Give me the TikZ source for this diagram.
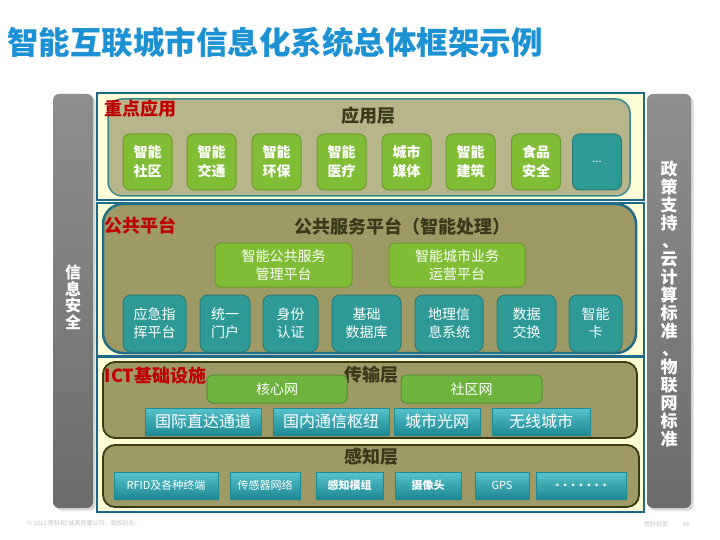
\documentclass[tikz,border=0pt]{standalone}
\usepackage{fontspec}
\setmainfont{Noto Sans CJK SC}
\usetikzlibrary{shadows}

\definecolor{titleblue}{HTML}{1C92D4}
\definecolor{secblue}{HTML}{1C6A8A}
\definecolor{paleyellow}{HTML}{FFFFD7}
\definecolor{appolive}{HTML}{B8B58A}
\definecolor{appedge}{HTML}{3A8B8E}
\definecolor{platolive}{HTML}{9D9A66}
\definecolor{platedge}{HTML}{226C86}
\definecolor{netedge}{HTML}{3B3B12}
\definecolor{layertext}{HTML}{3A391B}
\definecolor{labelred}{HTML}{C00000}
\definecolor{greenfill}{HTML}{80BD35}
\definecolor{greenedge}{HTML}{6A9E2C}
\definecolor{tealfill}{HTML}{2E9A95}
\definecolor{tealedge}{HTML}{2A7D7A}
\definecolor{netgreen}{HTML}{6DB33E}
\definecolor{netgreenedge}{HTML}{558F2E}
\definecolor{tealtop}{HTML}{55C4CB}
\definecolor{tealbottom}{HTML}{1E8893}
\definecolor{greytop}{HTML}{8E8E8E}
\definecolor{greybottom}{HTML}{6C6C6C}
\definecolor{footgrey}{HTML}{C4C4C4}

\begin{document}
\begin{tikzpicture}[x=1pt, y=-1pt, inner sep=0pt,
    section/.style = {draw=secblue, line width=1.5pt, fill=paleyellow, minimum width=547pt},
    applayer/.style = {draw=appedge, line width=1.5pt, fill=appolive, rounded corners=14pt},
    platlayer/.style = {draw=platedge, line width=2.5pt, fill=platolive, rounded corners=20pt},
    netlayer/.style = {draw=netedge, line width=1.8pt, fill=platolive, rounded corners=12pt},
    sidebar/.style = {rounded corners=6pt, top color=greytop, bottom color=greybottom, drop shadow={opacity=0.3}},
    sidetext/.style = {text=white, align=center, font=\fontsize{16}{16.5}\selectfont\bfseries},
    redlabel/.style = {text=labelred, font=\fontsize{18}{20}\selectfont\bfseries},
    layertitle/.style = {text=layertext, font=\fontsize{18}{20}\selectfont\bfseries},
    appbox/.style = {draw=greenedge, fill=greenfill, line width=1pt, rounded corners=7pt,
      minimum width=49pt, minimum height=56pt, text=white, align=center,
      font=\fontsize{14}{19}\selectfont\bfseries},
    platgreen/.style = {draw=greenedge, fill=greenfill, line width=1pt, rounded corners=6pt,
      minimum height=44pt, text=white, align=center, font=\fontsize{14}{18.5}\selectfont},
    platteal/.style = {draw=tealedge, fill=tealfill, line width=1pt, rounded corners=8pt,
      minimum height=57pt, text=white, align=center, font=\fontsize{14}{18}\selectfont},
    netgreenbox/.style = {draw=netgreenedge, fill=netgreen, line width=1pt, rounded corners=5pt,
      minimum height=28pt, text=white, font=\fontsize{14}{16}\selectfont},
    linkbox/.style = {draw=tealbottom, top color=tealtop, bottom color=tealbottom,
      minimum height=27pt, text=white, drop shadow={opacity=0.35, shadow xshift=1pt, shadow yshift=-1.5pt}},
  ]
  \fill[white] (0, 0) rectangle (720, 540);
  \useasboundingbox (0, 0) rectangle (720, 540);

  \node[anchor=west, text=titleblue, font=\fontsize{31.5}{34}\selectfont\bfseries] (title) at (7, 43) {智能互联城市信息化系统总体框架示例};

  % side bars
  \node[sidebar, minimum width=40pt, minimum height=414pt] (safetybar) at (73, 301) {};
  \node[sidetext] (safety) at (73, 297) {信\\息\\安\\全};
  \node[sidebar, minimum width=44pt, minimum height=414pt] (standardbar) at (669, 301) {};
  \node[sidetext, font=\fontsize{17}{18}\selectfont\bfseries] (standard) at (669, 304)
    {政\\策\\支\\持\\\kern3pt、\\云\\计\\算\\标\\准\\\kern3pt、\\物\\联\\网\\标\\准};

  % application
  \node[section, minimum height=107pt] (appsec) at (370.5, 146.5) {};
  \node[applayer, minimum width=522pt, minimum height=97pt] (applayer) at (369, 147.5) {};
  \node[redlabel] (applabel) at (140, 109) {重点应用};
  \node[layertitle] (apptitle) at (368, 116) {应用层};
  \node[appbox] (a1) at (147.5, 162) {智能\\社区};
  \node[appbox] (a2) at (211.5, 162) {智能\\交通};
  \node[appbox] (a3) at (276.5, 162) {智能\\环保};
  \node[appbox] (a4) at (341.5, 162) {智能\\医疗};
  \node[appbox] (a5) at (406.5, 162) {城市\\媒体};
  \node[appbox] (a6) at (470.5, 162) {智能\\建筑};
  \node[appbox] (a7) at (536, 162) {食品\\安全};
  \node[appbox, draw=tealedge, fill=tealfill, font=\fontsize{11}{12}\selectfont] (a8) at (597, 162) {...};

  % public platform
  \node[section, minimum height=153pt] (platsec) at (370.5, 279.5) {};
  \node[platlayer, minimum width=533pt, minimum height=149pt] (platlayer) at (369.5, 278.5) {};
  \node[redlabel] (platlabel) at (140, 225) {公共平台};
  \node[layertitle] (plattitle) at (402, 227) {公共服务平台（智能处理）};
  \node[platgreen, minimum width=137pt] (manage) at (283.5, 265) {智能公共服务\\管理平台};
  \node[platgreen, minimum width=136pt] (operate) at (457, 265) {智能城市业务\\运营平台};
  \node[platteal, minimum width=63pt] (p1) at (154.5, 323.5) {应急指\\挥平台};
  \node[platteal, minimum width=50pt] (p2) at (225, 323.5) {统一\\门户};
  \node[platteal, minimum width=55pt] (p3) at (290.5, 323.5) {身份\\认证};
  \node[platteal, minimum width=69pt] (p4) at (366.5, 323.5) {基础\\数据库};
  \node[platteal, minimum width=68pt] (p5) at (449, 323.5) {地理信\\息系统};
  \node[platteal, minimum width=59pt] (p6) at (526.5, 323.5) {数据\\交换};
  \node[platteal, minimum width=53pt] (p7) at (595.5, 323.5) {智能\\卡};

  % ICT infrastructure
  \node[section, minimum height=155pt] (ictsec) at (370.5, 434.5) {};
  \node[netlayer, minimum width=534pt, minimum height=76pt] (netlayer) at (370, 400) {};
  \node[redlabel] (ictlabel) at (155.5, 375.5) {ICT基础设施};
  \node[layertitle] (nettitle) at (371, 375) {传输层};
  \node[netgreenbox, minimum width=140pt] (core) at (277, 389) {核心网};
  \node[netgreenbox, minimum width=141pt] (community) at (471.5, 389) {社区网};
  \node[linkbox, minimum width=116pt, font=\fontsize{16}{18}\selectfont] (n1) at (203, 421.5) {国际直达通道};
  \node[linkbox, minimum width=116pt, font=\fontsize{16}{18}\selectfont] (n2) at (331, 421.5) {国内通信枢纽};
  \node[linkbox, minimum width=86pt, font=\fontsize{16}{18}\selectfont] (n3) at (437, 421.5) {城市光网};
  \node[linkbox, minimum width=98pt, font=\fontsize{16}{18}\selectfont] (n4) at (541, 421.5) {无线城市};

  \node[netlayer, minimum width=536pt, minimum height=62pt] (senselayer) at (371, 476) {};
  \node[layertitle] (sensetitle) at (371, 457) {感知层};
  \node[linkbox, minimum width=104pt, font=\fontsize{11}{13}\selectfont] (s1) at (166, 485.5) {RFID及各种终端};
  \node[linkbox, minimum width=70pt, font=\fontsize{11}{13}\selectfont] (s2) at (265, 485.5) {传感器网络};
  \node[linkbox, minimum width=67pt, font=\fontsize{11}{13}\selectfont\bfseries] (s3) at (349.5, 485.5) {感知模组};
  \node[linkbox, minimum width=66pt, font=\fontsize{11}{13}\selectfont\bfseries] (s4) at (428, 485.5) {摄像头};
  \node[linkbox, minimum width=54pt, font=\fontsize{11}{13}\selectfont] (s5) at (502, 485.5) {GPS};
  \node[linkbox, minimum width=90pt, font=\fontsize{12}{13}\selectfont\bfseries] (s6) at (581, 485.5) {. . . . . . .};

  % footer
  \node[anchor=west, text=footgrey, font=\fontsize{6}{7}\selectfont] (copyright) at (27, 524) {© 2012 思科和/或其附属公司。版权所有。};
  \node[anchor=west, text=footgrey, font=\fontsize{6}{7}\selectfont] (secret) at (644, 524) {思科机密};
  \node[anchor=west, text=footgrey, font=\fontsize{6}{7}\selectfont] (page) at (683, 524) {66};
\end{tikzpicture}
\end{document}
